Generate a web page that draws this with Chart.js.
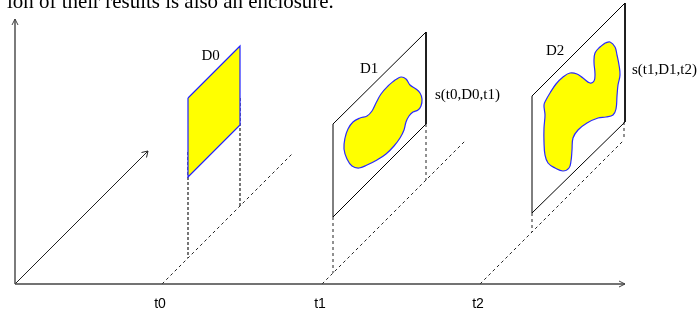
<!DOCTYPE html>
<html>
<head>
<meta charset="utf-8">
<script src="https://cdn.jsdelivr.net/npm/chart.js@4.4.1/dist/chart.umd.min.js"></script>
<style>
    html, body { margin: 0; padding: 0; background: #fff; overflow: hidden; }
    canvas { display: block; }
</style>
</head>
<body>
<canvas id="diagram" width="699" height="314"></canvas>
<script>
// Time instants on the horizontal axis and where their dashed lines stop
const tickTimes = [162, 322, 480];
const tickLabels = ["t0", "t1", "t2"];
const rayEnds = [293, 466, 624];
const axisBase = 284;

// Domain planes (corners)
const plane0 = [[188, 98], [240, 46], [240, 125], [188, 177]];
const plane1 = [[333, 124], [426, 32], [426, 124], [333, 217]];
const plane2 = [[532, 96], [625, 3], [625, 122], [532, 213]];

// Enclosure outlines inside planes D1 and D2
const blob1 = [
    [395, 80], [401, 77], [406, 79], [410, 85], [416, 89], [420, 93], [422, 99], [421, 106],
    [418, 110], [413, 112], [409, 116], [406, 122], [404, 130], [400, 138], [394, 146],
    [386, 154], [377, 160], [367, 165], [359, 168], [352, 166], [347, 159], [344, 149],
    [345, 138], [348, 129], [353, 122], [360, 118], [367, 116], [372, 111], [376, 103],
    [381, 94], [388, 86]
];
const blob2 = [
    [605, 43], [610, 42], [615, 47], [617, 55], [619, 65], [620, 75], [618, 85], [617, 96],
    [616, 109], [613, 115], [606, 117], [598, 118], [587, 123], [578, 130], [573, 138],
    [572, 150], [571, 161], [569, 168], [563, 171], [555, 168], [548, 163], [545, 155],
    [544, 142], [544, 128], [545, 115], [544, 105], [546, 100], [550, 93], [556, 84],
    [563, 77], [570, 73], [577, 74], [583, 78], [590, 83], [594, 81], [595, 74],
    [594, 62], [595, 53], [600, 47]
];

const domainNames = ["D0", "D1", "D2"];
const stepNames = ["s(t0,D0,t1)", "s(t1,D1,t2)"];
const topText = "ion of their results is also an enclosure.";

function toPts(arr) {
    return arr.map(p => ({ x: p[0], y: p[1] }));
}

function closed(arr) {
    return toPts(arr.concat([arr[0]]));
}

function line(points, color, width, dash, order) {
    return {
        data: toPts(points),
        showLine: true,
        borderColor: color,
        borderWidth: width,
        borderDash: dash || [],
        pointRadius: 0,
        fill: false,
        tension: 0,
        clip: false,
        order: order || 1
    };
}

function area(points, border, fillColor, tension, order) {
    return {
        data: closed(points),
        showLine: true,
        borderColor: border,
        backgroundColor: fillColor,
        borderWidth: 1.2,
        pointRadius: 0,
        fill: "shape",
        tension: tension,
        clip: false,
        order: order
    };
}

const datasets = [];

// planes and enclosures
datasets.push(area(plane0, "#2020ff", "#ffff00", 0, 6));
datasets.push(line(plane1.concat([plane1[0]]), "#000", 1, null, 6));
datasets.push(line(plane2.concat([plane2[0]]), "#000", 1, null, 6));
datasets.push(area(blob1, "#2a2aff", "#ffff00", 0.4, 5));
datasets.push(area(blob2, "#2a2aff", "#ffff00", 0.4, 5));

// dashed time lines going back in depth
tickTimes.forEach((t, i) => {
    const end = rayEnds[i];
    datasets.push(line([[t, axisBase], [end, axisBase - (end - t)]], "#222", 1, [3, 3], 4));
});

// dashed drop lines from the planes onto the time lines
function dropY(x, t) {
    return axisBase - (x - t);
}
datasets.push(line([[188, 152], [188, dropY(188, tickTimes[0])]], "#555", 1.6, [3, 2], 7));
datasets.push(line([[240, 98], [240, dropY(240, tickTimes[0])]], "#555", 1.6, [3, 2], 7));
datasets.push(line([[333, 217], [333, dropY(333, tickTimes[1])]], "#222", 1, [3, 3], 4));
datasets.push(line([[426, 124], [426, dropY(426, tickTimes[1])]], "#222", 1, [3, 3], 4));
datasets.push(line([[532, 213], [532, dropY(532, tickTimes[2])]], "#222", 1, [3, 3], 4));
datasets.push(line([[624, 122], [624, dropY(624, tickTimes[2])]], "#222", 1, [3, 3], 4));

// axes with open arrow heads
datasets.push(line([[15, axisBase], [625, axisBase]], "#444", 1.4, null, 3));
datasets.push(line([[619, 281], [625, axisBase], [619, 287]], "#444", 1, null, 3));
datasets.push(line([[15, axisBase], [15, 19]], "#444", 1.4, null, 3));
datasets.push(line([[12, 25], [15, 19], [18, 25]], "#444", 1, null, 3));
datasets.push(line([[15, axisBase], [148, 151]], "#222", 1, null, 3));
datasets.push(line([[141.5, 152.5], [148, 151], [146.5, 157.5]], "#222", 1, null, 3));

const textPlugin = {
    id: "diagramText",
    afterDatasetsDraw(chart) {
        const { ctx, scales: { x, y } } = chart;
        ctx.save();
        ctx.fillStyle = "#000";

        // clipped caption line at the very top
        let size = 20;
        ctx.font = size + "px 'Liberation Serif'";
        size = size * 327 / ctx.measureText(topText).width;
        ctx.font = size.toFixed(2) + "px 'Liberation Serif'";
        ctx.textAlign = "left";
        ctx.textBaseline = "alphabetic";
        ctx.fillText(topText, x.getPixelForValue(7), y.getPixelForValue(8));

        // domain and step labels
        ctx.font = "15px 'Liberation Serif'";
        const namePos = [[201.5, 60], [360, 73], [546, 55]];
        domainNames.forEach((name, i) => {
            ctx.fillText(name, x.getPixelForValue(namePos[i][0]), y.getPixelForValue(namePos[i][1]));
        });
        const stepPos = [[435, 99], [632, 74]];
        stepNames.forEach((name, i) => {
            ctx.fillText(name, x.getPixelForValue(stepPos[i][0]), y.getPixelForValue(stepPos[i][1]));
        });

        // time tick labels
        ctx.font = "14px 'Liberation Sans'";
        ctx.textAlign = "center";
        tickLabels.forEach((label, i) => {
            ctx.fillText(label, x.getPixelForValue(tickTimes[i] - 2), y.getPixelForValue(308));
        });
        ctx.restore();
    }
};

new Chart(document.getElementById("diagram"), {
    type: "scatter",
    data: { datasets: datasets },
    options: {
        responsive: false,
        animation: false,
        events: [],
        layout: { padding: 0 },
        plugins: {
            legend: { display: false },
            tooltip: { enabled: false }
        },
        scales: {
            x: { type: "linear", min: 0, max: 699, display: false },
            y: { type: "linear", min: 0, max: 314, reverse: true, display: false }
        }
    },
    plugins: [textPlugin]
});
</script>
</body>
</html>
